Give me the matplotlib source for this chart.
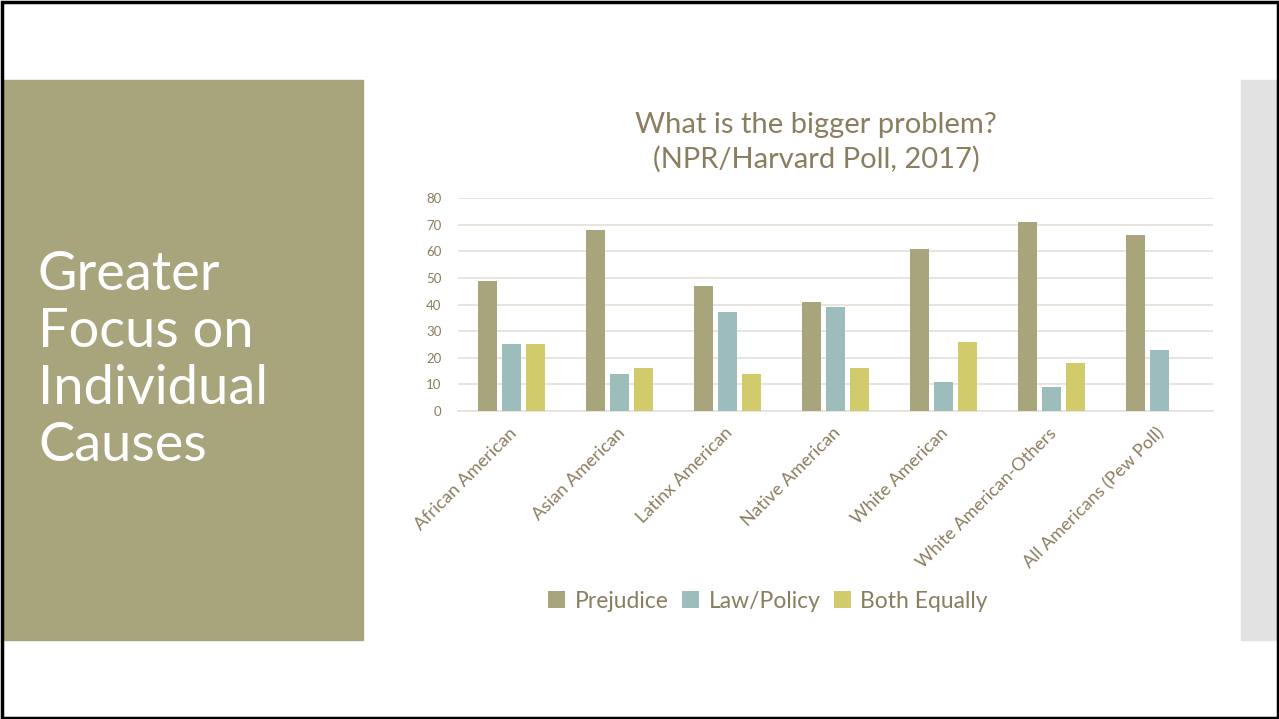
import matplotlib.pyplot as plt
from matplotlib.patches import Rectangle
import numpy as np

plt.rcParams["font.family"] = ["Lato", "DejaVu Sans"]

# data
categories = ["African American", "Asian American", "Latinx American", "Native American",
              "White American", "White American-Others", "All Americans (Pew Poll)"]
prejudice = [49, 68, 47, 41, 61, 71, 66]
law_policy = [25, 14, 37, 39, 11, 9, 23]
both_equally = [25, 16, 14, 16, 26, 18, 0]
series_names = ["Prejudice", "Law/Policy", "Both Equally"]
y_ticks = [0, 10, 20, 30, 40, 50, 60, 70, 80]

text_col = "#8B7D5F"
colors = ["#A8A47C", "#9DBDBD", "#D2CB6C"]

W, H = 1279, 719
fig = plt.figure(figsize=(W / 100, H / 100), dpi=100, facecolor="white")

# slide decorations: olive side panel, grey strip on the right, black frame
fig.patches.append(Rectangle((3 / W, 1 - 640 / H), 360 / W, 560 / H,
                             transform=fig.transFigure, color="#A8A47C", zorder=0))
fig.patches.append(Rectangle((1241 / W, 1 - 640 / H), 36 / W, 560 / H,
                             transform=fig.transFigure, color="#E2E2E2", zorder=0))
fig.patches.append(Rectangle((1.5 / W, 1.5 / H), (W - 3) / W, (H - 3) / H,
                             transform=fig.transFigure, fill=False,
                             edgecolor="black", linewidth=2.5, zorder=5))

fig.text(38 / W, 1 - 360 / H, "Greater\nFocus on\nIndividual\nCauses", color="white",
         fontsize=39, ha="left", va="center", linespacing=1.2)

ax = fig.add_axes([458 / W, 1 - 411 / H, (1213 - 458) / W, (411 - 198) / H])
x = np.arange(len(categories))
bw = 0.176
step = 0.222
series = [prejudice, law_policy, both_equally]
for i, (vals, name, c) in enumerate(zip(series, series_names, colors)):
    xs, vs = [], []
    for xi, v in zip(x, vals):
        if v > 0:
            xs.append(xi + (i - 1) * step)
            vs.append(v)
    ax.bar(xs, vs, width=bw, color=c, label=name, zorder=3)

ax.set_xlim(-0.5, len(categories) - 0.5)
ax.set_ylim(0, 80)
ax.set_yticks(y_ticks)
ax.set_yticklabels([str(t) for t in y_ticks])
ax.yaxis.grid(True, color="#E6E3DC", linewidth=1.3, zorder=0)
ax.set_axisbelow(True)
for s in ["top", "right", "left"]:
    ax.spines[s].set_visible(False)
ax.spines["bottom"].set_color("#E6E3DC")
ax.spines["bottom"].set_linewidth(1.3)
ax.tick_params(axis="y", length=0, colors=text_col, labelsize=9.5, pad=12)
ax.tick_params(axis="x", length=0, colors=text_col, labelsize=13, pad=10)
ax.set_xticks(x - 0.03)
ax.set_xticklabels(categories, rotation=45, ha="right", rotation_mode="anchor")

fig.text(816 / W, 1 - 142 / H, "What is the bigger problem?\n(NPR/Harvard Poll, 2017)",
         color=text_col, fontsize=21, ha="center", va="center", linespacing=1.35)

leg = ax.legend(loc="center", bbox_to_anchor=(768 / W, 1 - 601 / H),
                bbox_transform=fig.transFigure, ncol=3, frameon=False,
                fontsize=16.5, handlelength=0.75, handleheight=0.75, handletextpad=0.4,
                columnspacing=0.6)
for t in leg.get_texts():
    t.set_color(text_col)

fig.savefig("out.png", dpi=100, facecolor="white")
